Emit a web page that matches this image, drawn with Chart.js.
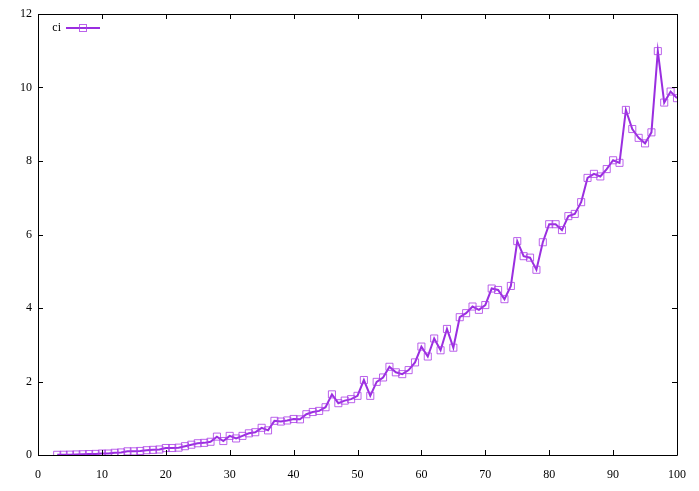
<!DOCTYPE html>
<html>
<head>
<meta charset="utf-8">
<script src="https://cdn.jsdelivr.net/npm/chart.js@4"></script>
<style>
html,body{margin:0;padding:0;background:#fff;}
#wrap{width:699px;height:491px;position:relative;}
</style>
</head>
<body>
<div id="wrap"><canvas id="c" width="699" height="491"></canvas></div>
<script>
const seriesName = "ci";
const xValues = [3,4,5,6,7,8,9,10,11,12,13,14,15,16,17,18,19,20,21,22,23,24,25,26,27,28,29,30,31,32,33,34,35,36,37,38,39,40,41,42,43,44,45,46,47,48,49,50,51,52,53,54,55,56,57,58,59,60,61,62,63,64,65,66,67,68,69,70,71,72,73,74,75,76,77,78,79,80,81,82,83,84,85,86,87,88,89,90,91,92,93,94,95,96,97,98,99,100];
const ciValues = [0.005,0.007,0.01,0.015,0.02,0.025,0.03,0.04,0.04,0.06,0.07,0.1,0.1,0.11,0.13,0.14,0.15,0.19,0.19,0.2,
  0.24,0.28,0.32,0.33,0.36,0.5,0.38,0.52,0.45,0.52,0.59,0.62,0.74,0.67,0.93,0.91,0.94,0.98,0.97,1.11,
  1.17,1.2,1.3,1.65,1.41,1.48,1.52,1.61,2.04,1.61,1.99,2.11,2.4,2.25,2.2,2.31,2.52,2.95,2.68,3.17,
  2.85,3.43,2.92,3.75,3.86,4.04,3.95,4.08,4.53,4.49,4.24,4.6,5.82,5.41,5.37,5.04,5.79,6.28,6.28,6.12,
  6.5,6.56,6.88,7.54,7.65,7.58,7.78,8.02,7.95,9.39,8.87,8.63,8.48,8.78,10.99,9.59,9.89,9.71];
const xTicks = [0,10,20,30,40,50,60,70,80,90,100];
const yTicks = [0,2,4,6,8,10,12];

const lineColor = '#9a2ee0';
const markColor = 'rgba(170,60,230,0.8)';
const FONT = '"Liberation Serif", "DejaVu Serif", serif';

const framePlugin = {
  id: 'frame',
  afterDatasetsDraw(chart) {
    const ctx = chart.ctx;
    const a = chart.chartArea;
    const xs = chart.scales.x, ys = chart.scales.y;
    ctx.save();
    ctx.strokeStyle = '#000';
    ctx.lineWidth = 1;
    ctx.beginPath();
    ctx.rect(Math.round(a.left)+0.5, Math.round(a.top)+0.5, Math.round(a.right-a.left), Math.round(a.bottom-a.top));
    ctx.stroke();
    const tl = 5;
    ctx.beginPath();
    xTicks.forEach(v => {
      const px = Math.round(xs.getPixelForValue(v)) + 0.5;
      ctx.moveTo(px, a.bottom); ctx.lineTo(px, a.bottom - tl);
      ctx.moveTo(px, a.top); ctx.lineTo(px, a.top + tl);
    });
    yTicks.forEach(v => {
      const py = Math.round(ys.getPixelForValue(v)) + 0.5;
      ctx.moveTo(a.left, py); ctx.lineTo(a.left + tl, py);
      ctx.moveTo(a.right, py); ctx.lineTo(a.right - tl, py);
    });
    ctx.stroke();
    // key
    const ds = chart.data.datasets[0];
    ctx.font = '12px ' + FONT;
    ctx.fillStyle = '#000';
    ctx.textAlign = 'right';
    ctx.textBaseline = 'middle';
    ctx.fillText(ds.label, 61, 28);
    ctx.strokeStyle = lineColor;
    ctx.lineWidth = 2;
    ctx.beginPath();
    ctx.moveTo(66, 28); ctx.lineTo(100, 28);
    ctx.stroke();
    ctx.strokeStyle = markColor;
    ctx.lineWidth = 1;
    ctx.strokeRect(79.5, 24.5, 7, 7);
    ctx.restore();
  }
};

new Chart(document.getElementById('c'), {
  type: 'line',
  data: {
    datasets: [{
      label: seriesName,
      data: xValues.map((x, i) => ({x: x, y: ciValues[i]})),
      borderColor: lineColor,
      borderWidth: 2,
      pointStyle: 'rect',
      pointRadius: 5,
      pointBorderWidth: 1,
      pointBorderColor: markColor,
      pointBackgroundColor: 'rgba(0,0,0,0)',
      tension: 0,
      fill: false
    }]
  },
  plugins: [framePlugin],
  options: {
    responsive: false,
    animation: false,
    events: [],
    layout: {padding: {left: 0, right: 20, top: 14, bottom: 0}},
    plugins: {legend: {display: false}, tooltip: {enabled: false}},
    scales: {
      x: {
        type: 'linear', min: 0, max: 100,
        afterBuildTicks: s => { s.ticks = xTicks.map(v => ({value: v})); },
        grid: {display: false, drawTicks: false},
        border: {display: false},
        ticks: {color: '#000', font: {family: FONT, size: 12}, padding: 13, maxRotation: 0},
        afterFit: s => { s.height = 36; }
      },
      y: {
        type: 'linear', min: 0, max: 12,
        afterBuildTicks: s => { s.ticks = yTicks.map(v => ({value: v})); },
        grid: {display: false, drawTicks: false},
        border: {display: false},
        ticks: {color: '#000', font: {family: FONT, size: 12}, padding: 6},
        afterFit: s => { s.width = 38; }
      }
    }
  }
});
</script>
</body>
</html>
